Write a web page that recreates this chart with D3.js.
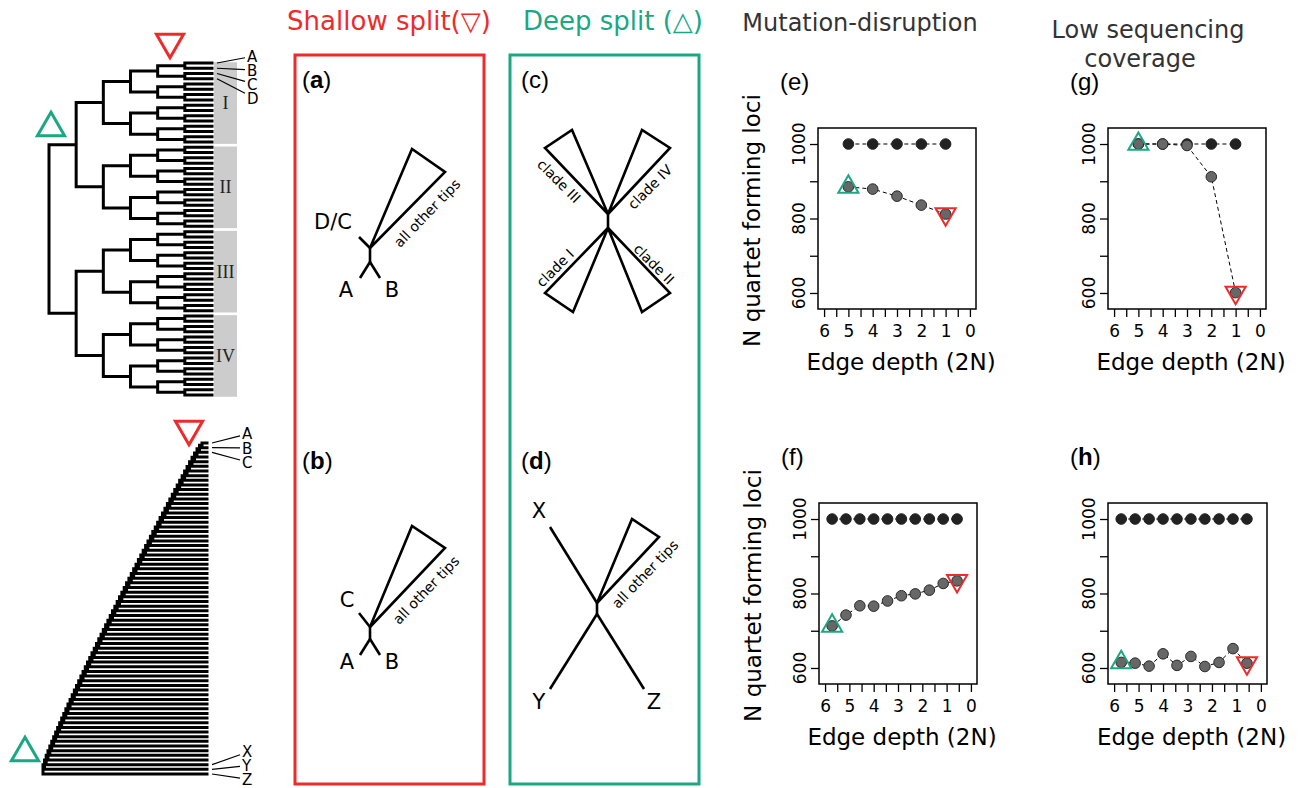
<!DOCTYPE html>
<html>
<head>
<meta charset="utf-8">
<script src="https://cdn.jsdelivr.net/npm/d3@7"></script>
<style>
  body { margin: 0; background: #fff; }
  svg { display: block; font-family: "DejaVu Sans", sans-serif; }
</style>
</head>
<body>
<svg id="fig" width="1304" height="788"></svg>
<script>
const RED = "#ee2b2b", GREEN = "#1ca784", INK = "#000";

// axis ticks
const depthTicks = [6, 5, 4, 3, 2, 1, 0];
const lociTicks = [600, 700, 800, 900, 1000];
const lociLabels = [600, 800, 1000];

// (e) mutation-disruption, balanced tree
const depthE = [5, 4, 3, 2, 1];
const trueE = [1000, 1000, 1000, 1000, 1000];
const mutE = [885, 879, 860, 836, 812];
// (f) mutation-disruption, caterpillar tree
const depthF = [5.71, 5.14, 4.57, 4.0, 3.43, 2.86, 2.29, 1.71, 1.14, 0.57];
const trueF = [1000, 1000, 1000, 1000, 1000, 1000, 1000, 1000, 1000, 1000];
const mutF = [713, 742, 767, 766, 780, 794, 799, 809, 827, 834];
// (g) low coverage, balanced tree
const covG = [1000, 1000, 996, 912, 601];
// (h) low coverage, caterpillar tree
const covH = [615, 613, 605, 638, 607, 631, 604, 615, 652, 613];

// tree labels
const cladeNames = ["I", "II", "III", "IV"];
const balancedTips = ["A", "B", "C", "D"];
const catTopTips = ["A", "B", "C"];
const catBottomTips = ["X", "Y", "Z"];

const svg = d3.select("#fig");

function strokePath(pts, opts = {}) {
  svg.append("path")
    .attr("d", d3.line()(pts) + (opts.closed ? "Z" : ""))
    .attr("fill", "none")
    .attr("stroke", opts.color || INK)
    .attr("stroke-width", opts.width || 2.6)
    .attr("stroke-linecap", opts.cap || "butt")
    .attr("stroke-linejoin", "miter");
}

function text(x, y, t, opts = {}) {
  return svg.append("text")
    .attr("x", x).attr("y", y)
    .attr("text-anchor", opts.anchor || "middle")
    .style("font-size", (opts.size || 16) + "px")
    .style("font-family", opts.family || null)
    .attr("fill", opts.color || INK)
    .text(t);
}

function rotText(x, y, angle, t, size) {
  svg.append("text")
    .attr("transform", `translate(${x},${y}) rotate(${angle})`)
    .attr("text-anchor", "middle")
    .attr("dominant-baseline", "central")
    .style("font-size", size + "px")
    .text(t);
}

function panelLabel(x, y, letter, bold) {
  const t = svg.append("text").attr("x", x).attr("y", y)
    .style("font-family", "'Liberation Sans', Arial, sans-serif")
    .style("font-size", "24px");
  t.append("tspan").text("(");
  t.append("tspan").style("font-weight", bold ? "bold" : "normal").text(letter);
  t.append("tspan").text(")");
}

function triangle(cx, cy, up, color, size) {
  svg.append("path")
    .attr("d", d3.symbol(d3.symbolTriangle, size)())
    .attr("transform", `translate(${cx},${cy}) rotate(${up ? 0 : 180})`)
    .attr("fill", "none").attr("stroke", color).attr("stroke-width", size > 300 ? 3 : 2);
}

// elbow drawing for a laid-out hierarchy
function drawElbows(root, width) {
  const segs = [];
  root.each(d => {
    if (!d.children) return;
    segs.push([[d.x, d.children[0].y], [d.x, d.children[d.children.length - 1].y]]);
    d.children.forEach(c => segs.push([[d.x, c.y], [c.x, c.y]]));
  });
  svg.append("path")
    .attr("d", segs.map(s => d3.line()(s)).join(""))
    .attr("fill", "none").attr("stroke", INK)
    .attr("stroke-width", width).attr("stroke-linecap", "square");
}

function pointerLabels(tipX, tipYs, labYs, names) {
  names.forEach((n, i) => {
    const endY = d3.interpolateNumber(tipYs[i], labYs[i])(0.75);
    strokePath([[tipX + 5, tipYs[i]], [tipX + 33, endY]], { width: 1.2 });
    svg.append("text").attr("x", tipX + 35).attr("y", labYs[i] + 5.5)
      .style("font-size", "15px").text(n);
  });
}

// ---------- balanced tree (top left) ----------
function balanced(k) { return k === 0 ? {} : { children: [balanced(k - 1), balanced(k - 1)] }; }
const balRoot = d3.hierarchy(balanced(6));
const balLeaves = balRoot.leaves();
const balTipY = d3.scaleLinear().domain([0, balLeaves.length - 1]).range([63, 395]);
const balDepthX = d3.scaleLinear().domain([0, 6]).range([49, 212]);
balLeaves.forEach((d, i) => { d.y = balTipY(i); });
balRoot.eachAfter(d => {
  d.x = balDepthX(d.depth);
  if (d.children) d.y = d3.mean(d.children, c => c.y);
});

// grey clade bands
cladeNames.forEach((name, k) => {
  const per = balLeaves.length / cladeNames.length;
  const y0 = balTipY(k * per) - 0.8, y1 = balTipY((k + 1) * per - 1) + 1.8;
  svg.append("rect").attr("x", 214).attr("y", y0).attr("width", 23).attr("height", y1 - y0)
    .attr("fill", "#cccccc");
  svg.append("text").attr("x", 225.5).attr("y", (y0 + y1) / 2 + 6)
    .attr("text-anchor", "middle")
    .style("font-family", "'Liberation Serif', 'DejaVu Serif', serif")
    .style("font-size", "18px").attr("fill", "#222").text(name);
});
drawElbows(balRoot, 3);
pointerLabels(212, balLeaves.slice(0, 4).map(d => d.y),
  balancedTips.map((_, i) => 56 + i * 14), balancedTips);
triangle(170, 42, false, RED, 320);
triangle(51, 128, true, GREEN, 320);

// ---------- caterpillar tree (bottom left) ----------
const nCat = 72;
function caterpillar(k) { return k === 2 ? { children: [{}, {}] } : { children: [caterpillar(k - 1), {}] }; }
const catRoot = d3.hierarchy(caterpillar(nCat));
const catLeaves = catRoot.leaves();
const catTipY = d3.scaleLinear().domain([0, nCat - 1]).range([443, 774]);
const catNodeX = d3.scalePow().exponent(1.1).domain([0, nCat - 2]).range([43, 202]);
catLeaves.forEach((d, i) => { d.y = catTipY(i); d.x = 207; });
catRoot.eachAfter(d => {
  if (d.children) {
    d.x = catNodeX(d.depth);
    d.y = d3.mean(d.children, c => c.y);
  }
});
drawElbows(catRoot, 3);
pointerLabels(207, catLeaves.slice(0, 3).map(d => d.y),
  catTopTips.map((_, i) => 433.5 + i * 14.5), catTopTips);
pointerLabels(207, catLeaves.slice(-3).map(d => d.y),
  catBottomTips.map((_, i) => 751.5 + i * 14), catBottomTips);
triangle(189, 429, false, RED, 320);
triangle(25, 753, true, GREEN, 320);

// ---------- titles ----------
text(389, 30, "Shallow split(\u25BD)", { size: 26, color: RED });
text(613, 30, "Deep split (\u25B3)", { size: 26, color: GREEN });
text(860, 31, "Mutation-disruption", { size: 24, color: "#333" });
text(1148, 38, "Low sequencing", { size: 24, color: "#333" });
text(1140, 67, "coverage", { size: 24, color: "#333" });

// ---------- schematic boxes ----------
svg.append("rect").attr("x", 295).attr("y", 55).attr("width", 189).attr("height", 729)
  .attr("fill", "none").attr("stroke", RED).attr("stroke-width", 3);
svg.append("rect").attr("x", 510).attr("y", 55).attr("width", 189).attr("height", 729)
  .attr("fill", "none").attr("stroke", GREEN).attr("stroke-width", 3);
panelLabel(302, 88, "a", true);
panelLabel(302, 469, "b", true);
panelLabel(521, 88, "c", false);
panelLabel(521, 469, "d", true);

// (a) shallow split on balanced tree
(function () {
  const nx = 370, ny = 248;
  strokePath([[nx, ny], [nx, ny + 14]]);
  strokePath([[nx, ny + 14], [nx - 10, ny + 30]]);
  strokePath([[nx, ny + 14], [nx + 10, ny + 30]]);
  strokePath([[nx, ny], [nx - 11, ny - 11]]);
  strokePath([[nx, ny], [nx + 42, ny - 99], [nx + 75, ny - 76]], { closed: true });
  text(nx - 37, ny - 19, "D/C", { size: 21 });
  text(nx - 24, ny + 49, "A", { size: 21 });
  text(nx + 22, ny + 49, "B", { size: 21 });
  rotText(nx + 57, ny - 35, -46, "all other tips", 14);
})();

// (b) shallow split on caterpillar tree
(function () {
  const nx = 370, ny = 627;
  strokePath([[nx, ny], [nx, ny + 12]]);
  strokePath([[nx, ny + 12], [nx - 10, ny + 28]]);
  strokePath([[nx, ny + 12], [nx + 10, ny + 28]]);
  strokePath([[nx, ny], [nx - 11, ny - 14]]);
  strokePath([[nx, ny], [nx + 42, ny - 101], [nx + 75, ny - 79]], { closed: true });
  text(nx - 23, ny - 20, "C", { size: 21 });
  text(nx - 23, ny + 42, "A", { size: 21 });
  text(nx + 22, ny + 42, "B", { size: 21 });
  rotText(nx + 56, ny - 37, -46, "all other tips", 14);
})();

// (c) deep split on balanced tree
(function () {
  const nx = 608, uy = 214, ly = 228;
  strokePath([[nx, uy], [nx, ly]]);
  strokePath([[nx, uy], [nx - 63, uy - 66], [nx - 36, uy - 84]], { closed: true });
  strokePath([[nx, uy], [nx + 34, uy - 84], [nx + 62, uy - 66]], { closed: true });
  strokePath([[nx, ly], [nx - 63, ly + 65], [nx - 35, ly + 84]], { closed: true });
  strokePath([[nx, ly], [nx + 34, ly + 84], [nx + 62, ly + 65]], { closed: true });
  rotText(559, 181, 45, "clade III", 14);
  rotText(650, 187, -45, "clade IV", 14);
  rotText(555, 268, -45, "clade I", 14);
  rotText(654, 264, 45, "clade II", 14);
})();

// (d) deep split on caterpillar tree
(function () {
  const nx = 597, uy = 603, ly = 614;
  strokePath([[nx, uy], [nx, ly]]);
  strokePath([[nx, uy], [nx - 47, uy - 76]]);
  strokePath([[nx, uy], [nx + 35, uy - 84], [nx + 62, uy - 66]], { closed: true });
  strokePath([[nx, ly], [nx - 47, ly + 75]]);
  strokePath([[nx, ly], [nx + 47, ly + 75]]);
  text(539, 518, "X", { size: 21 });
  text(539, 709, "Y", { size: 21 });
  text(654, 709, "Z", { size: 21 });
  rotText(645, 574, -46, "all other tips", 14);
})();

// ---------- scatter plots ----------
function drawPlot(cfg) {
  const x = d3.scaleLinear().domain([6.25, -0.25]).range([cfg.x0, cfg.x1]);
  const y = d3.scaleLinear().domain([557, 1043]).range([cfg.y1, cfg.y0]);
  const g = svg.append("g");

  // x axis
  const xa = g.append("g").attr("transform", `translate(0,${cfg.y1})`)
    .call(d3.axisBottom(x)
      .tickValues(d3.range(0, 6.01, 0.5))
      .tickSize(8).tickPadding(8)
      .tickFormat(d => depthTicks.includes(d) ? d : ""));
  xa.select(".domain").remove();
  xa.selectAll("line").attr("stroke-width", 1.3);
  xa.selectAll("text").style("font-size", "17px").style("font-family", "'DejaVu Sans', sans-serif")
    .attr("fill", INK);

  // y axis
  const ya = g.append("g").attr("transform", `translate(${cfg.x0},0)`)
    .call(d3.axisLeft(y).tickValues(lociTicks).tickSize(8).tickFormat(""));
  ya.select(".domain").remove();
  ya.selectAll("line").attr("stroke-width", 1.3);
  lociLabels.forEach(v => {
    g.append("text")
      .attr("transform", `translate(${cfg.x0 - 13},${y(v)}) rotate(-90)`)
      .attr("text-anchor", "middle").style("font-size", "17px").text(v);
  });

  // box
  g.append("rect").attr("x", cfg.x0).attr("y", cfg.y0)
    .attr("width", cfg.x1 - cfg.x0).attr("height", cfg.y1 - cfg.y0)
    .attr("fill", "none").attr("stroke", INK).attr("stroke-width", 1.5);

  const line = d3.line().x(d => x(d[0])).y(d => y(d[1]));
  const series = [
    { xs: cfg.xs, ys: cfg.ref, fill: "#222", stroke: "#222" },
    { xs: cfg.xs, ys: cfg.obs, fill: "#676767", stroke: "#2a2a2a" }
  ];
  series.forEach(s => {
    const pts = s.xs.map((v, i) => [v, s.ys[i]]);
    g.append("path").attr("d", line(pts)).attr("fill", "none")
      .attr("stroke", INK).attr("stroke-width", 1).attr("stroke-dasharray", "4,3");
    g.selectAll(null).data(pts).enter().append("circle")
      .attr("cx", d => x(d[0])).attr("cy", d => y(d[1])).attr("r", 5.3)
      .attr("fill", s.fill).attr("stroke", s.stroke).attr("stroke-width", 1);
  });

  const n = cfg.xs.length;
  triangle(x(cfg.xs[0]), y(cfg.obs[0]), true, GREEN, 175);
  triangle(x(cfg.xs[n - 1]), y(cfg.obs[n - 1]), false, RED, 175);

  const cx = (cfg.x0 + cfg.x1) / 2 + 4;
  text(cx, cfg.y1 + 61, "Edge depth (2N)", { size: 23 });
  if (cfg.ylab) {
    svg.append("text")
      .attr("transform", `translate(${cfg.x0 - 58},${(cfg.y0 + cfg.y1) / 2 + 2}) rotate(-90)`)
      .attr("text-anchor", "middle").style("font-size", "23px").text("N quartet forming loci");
  }
  panelLabel(cfg.x0 - 38, cfg.y0 - 38, cfg.tag, cfg.bold);
}

drawPlot({ x0: 818, x1: 976, y0: 128, y1: 309, xs: depthE, ref: trueE, obs: mutE, ylab: true, tag: "e", bold: false });
drawPlot({ x0: 819, x1: 977, y0: 503, y1: 684, xs: depthF, ref: trueF, obs: mutF, ylab: true, tag: "f", bold: false });
drawPlot({ x0: 1108, x1: 1266, y0: 128, y1: 309, xs: depthE, ref: trueE, obs: covG, ylab: false, tag: "g", bold: false });
drawPlot({ x0: 1108, x1: 1267, y0: 503, y1: 684, xs: depthF, ref: trueF, obs: covH, ylab: false, tag: "h", bold: true });
</script>
</body>
</html>
